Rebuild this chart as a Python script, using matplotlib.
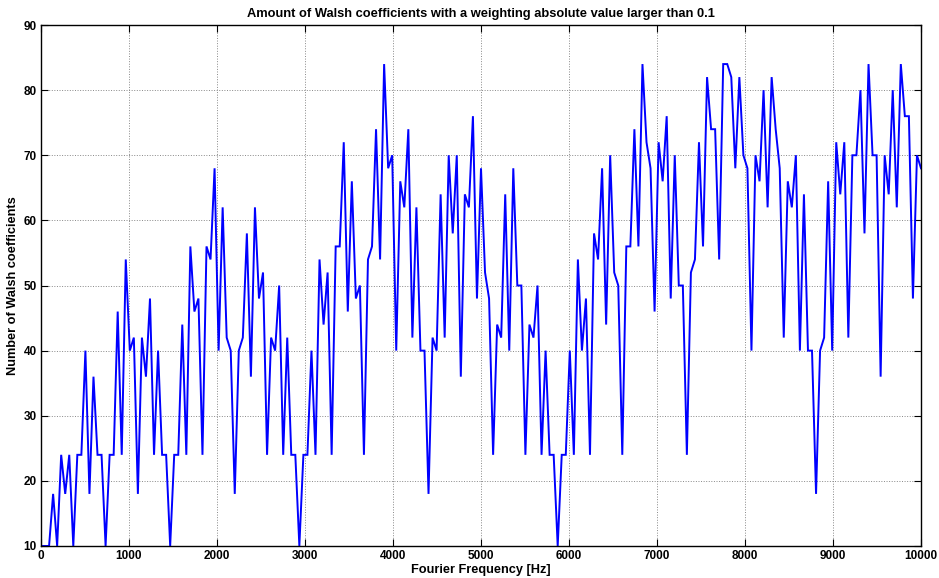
import numpy as np
import matplotlib.pyplot as plt

plt.rcParams['font.family'] = ['Liberation Sans', 'DejaVu Sans']
plt.rcParams['font.weight'] = 'bold'

# number of Walsh coefficients with |weight| > 0.1 per Fourier bin
walsh_counts = [
    10, 10, 10, 18, 10, 24, 18, 24, 10, 24, 24, 40, 18, 36, 24, 24, 10, 24, 24, 46,
    24, 54, 40, 42, 18, 42, 36, 48, 24, 40, 24, 24, 10, 24, 24, 44, 24, 56, 46, 48,
    24, 56, 54, 68, 40, 62, 42, 40, 18, 40, 42, 58, 36, 62, 48, 52, 24, 42, 40, 50,
    24, 42, 24, 24, 10, 24, 24, 40, 24, 54, 44, 52, 24, 56, 56, 72, 46, 66, 48, 50,
    24, 54, 56, 74, 54, 84, 68, 70, 40, 66, 62, 74, 42, 62, 40, 40, 18, 42, 40, 64,
    42, 70, 58, 70, 36, 64, 62, 76, 48, 68, 52, 48, 24, 44, 42, 64, 40, 68, 50, 50,
    24, 44, 42, 50, 24, 40, 24, 24, 10, 24, 24, 40, 24, 54, 40, 48, 24, 58, 54, 68,
    44, 70, 52, 50, 24, 56, 56, 74, 56, 84, 72, 68, 46, 72, 66, 76, 48, 70, 50, 50,
    24, 52, 54, 72, 56, 82, 74, 74, 54, 84, 84, 82, 68, 82, 70, 68, 40, 70, 66, 80,
    62, 82, 74, 68, 42, 66, 62, 70, 40, 64, 40, 40, 18, 40, 42, 66, 40, 72, 64, 72,
    42, 70, 70, 80, 58, 84, 70, 70, 36, 70, 64, 80, 62, 84, 76, 76, 48, 70, 68,
]
freq_hz = np.linspace(0, 10000, len(walsh_counts))

x_ticks = np.arange(0, 10001, 1000)
y_ticks = np.arange(10, 91, 10)

fig = plt.figure(figsize=(9.39, 5.78), dpi=100)
ax = fig.add_axes([41 / 939, 1 - 546 / 578, 880 / 939, 521 / 578])

ax.plot(freq_hz, walsh_counts, color='#0000ff', lw=1.4, solid_joinstyle='miter')

ax.set_xlim(0, 10000)
ax.set_ylim(10, 90)
ax.set_xticks(x_ticks)
ax.set_yticks(y_ticks)
ax.grid(True, linestyle=':', color='#888888', lw=0.7)
ax.tick_params(direction='in', top=True, right=True, length=5, width=0.8,
               labelsize=8.5, pad=3)
for s in ax.spines.values():
    s.set_linewidth(1.0)

ax.set_title('Amount of Walsh coefficients with a weighting absolute value larger than 0.1',
             fontsize=9.3, fontweight='bold', pad=6)
ax.set_xlabel('Fourier Frequency [Hz]', fontsize=9.2, fontweight='bold', labelpad=1)
ax.set_ylabel('Number of Walsh coefficients', fontsize=9.2, fontweight='bold', labelpad=3)

fig.savefig('out.png', dpi=100)
